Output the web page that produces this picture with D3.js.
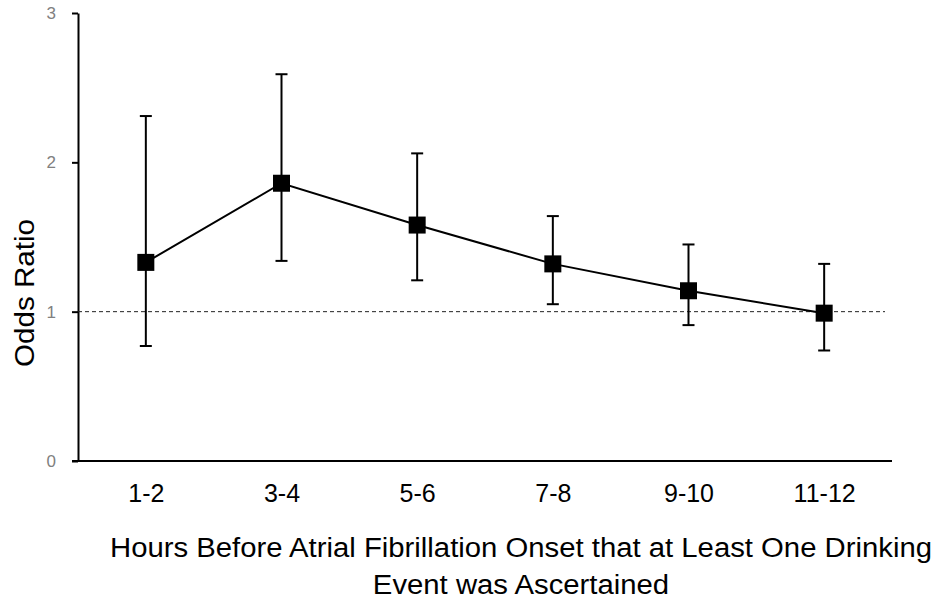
<!DOCTYPE html>
<html>
<head>
<meta charset="utf-8">
<script src="https://cdn.jsdelivr.net/npm/d3@7"></script>
<style>
  body { margin: 0; background: #fff; }
  svg text { font-family: "Liberation Sans", Arial, sans-serif; }
</style>
</head>
<body>
<svg id="chart" width="937" height="599"></svg>
<script>
// données
const categories = ["1-2", "3-4", "5-6", "7-8", "9-10", "11-12"];
const oddsRatio = [1.33, 1.86, 1.58, 1.32, 1.14, 0.99];
const ciLow = [0.77, 1.34, 1.21, 1.05, 0.91, 0.74];
const ciHigh = [2.31, 2.59, 2.06, 1.64, 1.45, 1.32];
const yTicks = [0, 1, 2, 3];

const data = categories.map((c, i) => ({ cat: c, or: oddsRatio[i], lo: ciLow[i], hi: ciHigh[i] }));

const svg = d3.select("#chart");
const x0 = 78, x1 = 892, yTop = 13, yBot = 461;

const xScale = d3.scalePoint().domain(categories).range([x0, x1]).padding(0.5);
const yScale = d3.scaleLinear().domain([0, 3]).range([yBot, yTop]);

// axe Y
const yAxis = svg.append("g")
  .attr("transform", `translate(${x0},0)`)
  .call(d3.axisLeft(yScale).tickValues(yTicks).tickFormat(d3.format("d")).tickSize(6).tickSizeOuter(0));
yAxis.select(".domain").attr("stroke", "#000").attr("stroke-width", 2);
yAxis.selectAll(".tick line").attr("stroke", "#000").attr("stroke-width", 2);
yAxis.selectAll(".tick text")
  .attr("x", -22)
  .attr("fill", "#808080")
  .style("font-size", "17px");

// axe X
const xAxis = svg.append("g")
  .attr("transform", `translate(0,${yBot})`)
  .call(d3.axisBottom(xScale).tickSize(0).tickSizeOuter(0));
xAxis.select(".domain").attr("d", `M${x0 - 6},0H${x1}`).attr("stroke", "#000").attr("stroke-width", 2);
xAxis.selectAll(".tick text")
  .attr("y", 41)
  .attr("dy", null)
  .attr("fill", "#000")
  .style("font-size", "25px");

// ligne de référence OR = 1
svg.append("line")
  .attr("x1", x0).attr("x2", 885)
  .attr("y1", yScale(1)).attr("y2", yScale(1))
  .attr("stroke", "#222").attr("stroke-width", 1)
  .attr("stroke-dasharray", "4,3");

// barres d'erreur
const eb = svg.append("g").attr("stroke", "#000").attr("stroke-width", 2);
eb.selectAll(".ci").data(data).enter().append("line")
  .attr("x1", d => xScale(d.cat)).attr("x2", d => xScale(d.cat))
  .attr("y1", d => yScale(d.lo)).attr("y2", d => yScale(d.hi));
["lo", "hi"].forEach(k => {
  eb.selectAll(".cap-" + k).data(data).enter().append("line")
    .attr("x1", d => xScale(d.cat) - 6).attr("x2", d => xScale(d.cat) + 6)
    .attr("y1", d => yScale(d[k])).attr("y2", d => yScale(d[k]));
});

// ligne
svg.append("path")
  .datum(data)
  .attr("fill", "none")
  .attr("stroke", "#000")
  .attr("stroke-width", 2)
  .attr("d", d3.line().x(d => xScale(d.cat)).y(d => yScale(d.or)));

// marqueurs carrés
const ms = 17;
svg.selectAll(".pt").data(data).enter().append("rect")
  .attr("x", d => xScale(d.cat) - ms / 2)
  .attr("y", d => yScale(d.or) - ms / 2)
  .attr("width", ms).attr("height", ms)
  .attr("fill", "#000");

// titres
svg.append("text")
  .attr("transform", "translate(34,293) rotate(-90)")
  .attr("text-anchor", "middle")
  .attr("textLength", 148)
  .attr("lengthAdjust", "spacingAndGlyphs")
  .style("font-size", "27px")
  .text("Odds Ratio");

const t1 = svg.append("text")
  .attr("x", 521).attr("y", 557)
  .attr("text-anchor", "middle")
  .style("font-size", "27px")
  .text("Hours Before Atrial Fibrillation Onset that at Least One Drinking");
const t2 = svg.append("text")
  .attr("x", 521).attr("y", 594)
  .attr("text-anchor", "middle")
  .style("font-size", "27px")
  .text("Event was Ascertained");
// étirement léger pour correspondre à la largeur de l'original
const stretch = 822 / t1.node().getComputedTextLength();
[t1, t2].forEach(t => {
  t.attr("textLength", t.node().getComputedTextLength() * stretch)
   .attr("lengthAdjust", "spacingAndGlyphs");
});
</script>
</body>
</html>
